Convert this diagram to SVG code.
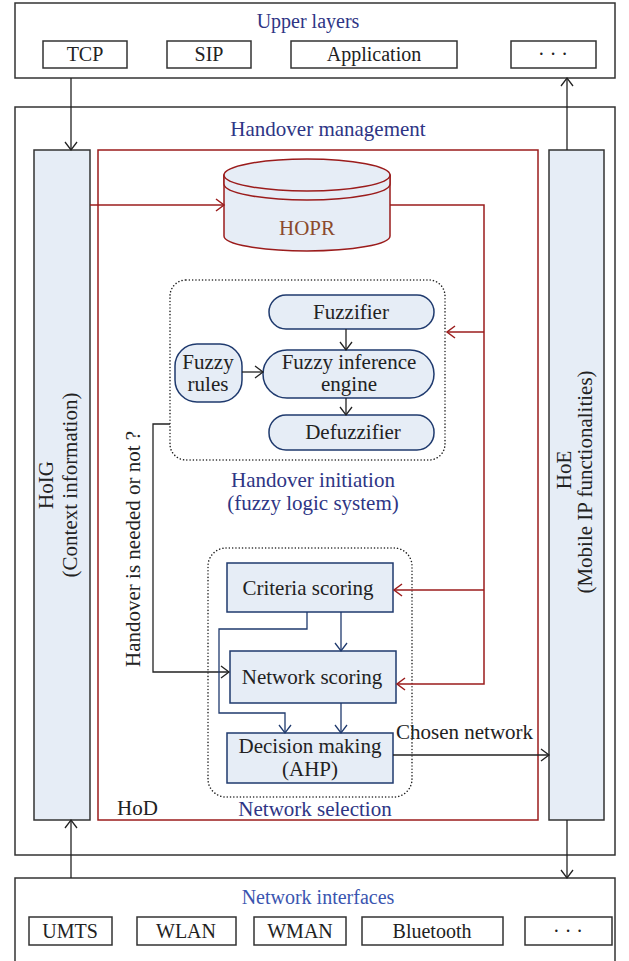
<svg xmlns="http://www.w3.org/2000/svg" width="629" height="961" viewBox="0 0 629 961">
<style>
text{font-family:"Liberation Serif","Times New Roman",serif;fill:#222;font-size:21px;}
.t{text-anchor:middle;}
.h{font-size:20px;}
.nv{fill:#2e3585;}
.nb{fill:#3a55b0;}
.box{fill:#fff;stroke:#333;stroke-width:1.5;}
.col{fill:#e6edf6;stroke:#333;stroke-width:1.5;}
.bl{fill:#e6edf6;stroke:#1f3a6e;stroke-width:1.5;}
.red{fill:none;stroke:#9b1c1c;stroke-width:1.5;}
.k{fill:none;stroke:#222;stroke-width:1.3;}
.b{fill:none;stroke:#1f3a6e;stroke-width:1.3;}
.dot{fill:none;stroke:#222;stroke-width:1.5;stroke-dasharray:0.1 3.2;stroke-linecap:round;}
</style>
<defs>
<marker id="ak" markerUnits="userSpaceOnUse" markerWidth="12" markerHeight="14" refX="9" refY="7" orient="auto"><path d="M1,1 L9,7 L1,13" fill="none" stroke="#222" stroke-width="1.3"/></marker>
<marker id="ar" markerUnits="userSpaceOnUse" markerWidth="12" markerHeight="14" refX="9" refY="7" orient="auto"><path d="M1,1 L9,7 L1,13" fill="none" stroke="#9b1c1c" stroke-width="1.5"/></marker>
<marker id="ab" markerUnits="userSpaceOnUse" markerWidth="12" markerHeight="14" refX="9" refY="7" orient="auto"><path d="M1,1 L9,7 L1,13" fill="none" stroke="#1f3a6e" stroke-width="1.3"/></marker>
</defs>

<g id="upper-layers">
<rect class="box" x="15" y="3" width="600" height="75"/>
<text class="t h nv" x="308" y="28">Upper layers</text>
<rect class="box" x="43" y="41" width="84" height="27"/><text class="t h" x="85" y="61">TCP</text>
<rect class="box" x="167" y="41" width="84" height="27"/><text class="t h" x="209" y="61">SIP</text>
<rect class="box" x="291" y="41" width="166" height="27"/><text class="t h" x="374" y="61">Application</text>
<rect class="box" x="511" y="41" width="85" height="27"/><text class="t h" x="553" y="61">· · ·</text>
</g>

<g id="handover-management">
<rect class="box" x="15" y="107" width="600" height="748"/>
<text class="t nv" x="328" y="136">Handover management</text>
</g>

<g id="HoIG">
<rect class="col" x="34" y="150" width="56" height="670"/>
<text class="t" transform="translate(53,485) rotate(-90)">HoIG</text>
<text class="t" transform="translate(77,485) rotate(-90)">(Context information)</text>
</g>

<g id="HoE">
<rect class="col" x="549" y="150" width="55" height="670"/>
<text class="t" transform="translate(571,470) rotate(-90)">HoE</text>
<text class="t" transform="translate(592,482) rotate(-90)">(Mobile IP functionalities)</text>
</g>

<g id="HoD">
<rect x="98" y="150" width="440" height="670" fill="none" stroke="#9b1c1c" stroke-width="1.5"/>
<text x="117" y="815">HoD</text>
</g>

<g id="HOPR">
<path d="M224,175 L224,236 A83,15 0 0 0 390,236 L390,175 Z" fill="#e6edf6" stroke="#9b1c1c" stroke-width="1.5"/>
<path d="M224,175 L224,184 A83,16 0 0 0 390,184 L390,175" fill="#e6edf6" stroke="#9b1c1c" stroke-width="1.5"/>
<ellipse cx="307" cy="175" rx="83" ry="16" fill="#e6edf6" stroke="#9b1c1c" stroke-width="1.5"/>
<text class="t" x="307" y="235" style="fill:#8b4a2b">HOPR</text>
</g>

<g id="handover-initiation">
<rect class="dot" x="170" y="280" width="275" height="180" rx="16"/>
<text class="t nv" x="313" y="487">Handover initiation</text>
<text class="t nv" x="313" y="510">(fuzzy logic system)</text>
</g>
<g id="fuzzifier">
<rect class="bl" x="269" y="295" width="165" height="34" rx="17"/>
<text class="t" x="351" y="319">Fuzzifier</text>
</g>
<g id="inference-engine">
<rect class="bl" x="263" y="350" width="171" height="48" rx="24"/>
<text class="t" x="349" y="369">Fuzzy inference</text>
<text class="t" x="349" y="391">engine</text>
</g>
<g id="defuzzifier">
<rect class="bl" x="269" y="415" width="165" height="35" rx="17"/>
<text class="t" x="353" y="439">Defuzzifier</text>
</g>
<g id="fuzzy-rules">
<rect class="bl" x="175" y="344" width="67" height="58" rx="22"/>
<text class="t" x="208" y="369">Fuzzy</text>
<text class="t" x="208" y="391">rules</text>
</g>

<g id="network-selection">
<rect class="dot" x="208" y="548" width="204" height="249" rx="18"/>
<text class="t nv" x="315" y="816">Network selection</text>
</g>
<g id="criteria-scoring">
<rect class="bl" x="227" y="563" width="166" height="49"/>
<text class="t" x="308" y="595">Criteria scoring</text>
</g>
<g id="network-scoring">
<rect class="bl" x="230" y="651" width="166" height="52"/>
<text class="t" x="312" y="684">Network scoring</text>
</g>
<g id="decision-making">
<rect class="bl" x="227" y="733" width="166" height="50"/>
<text class="t" x="310" y="753">Decision making</text>
<text class="t" x="310" y="776">(AHP)</text>
</g>

<g id="network-interfaces">
<rect class="box" x="15" y="878" width="600" height="90"/>
<text class="t h nb" x="318" y="904">Network interfaces</text>
<rect class="box" x="29" y="917" width="83" height="28"/><text class="t h" x="70" y="938">UMTS</text>
<rect class="box" x="137" y="917" width="99" height="28"/><text class="t h" x="186" y="938">WLAN</text>
<rect class="box" x="254" y="917" width="92" height="28"/><text class="t h" x="300" y="938">WMAN</text>
<rect class="box" x="362" y="917" width="141" height="28"/><text class="t h" x="432" y="938">Bluetooth</text>
<rect class="box" x="525" y="917" width="87" height="28"/><text class="t h" x="568" y="938">· · ·</text>
</g>

<g id="connectors">
<line class="k" x1="71" y1="78" x2="71" y2="150" marker-end="url(#ak)"/>
<line class="k" x1="567" y1="150" x2="567" y2="78" marker-end="url(#ak)"/>
<line class="k" x1="71" y1="878" x2="71" y2="820" marker-end="url(#ak)"/>
<line class="k" x1="567" y1="820" x2="567" y2="878" marker-end="url(#ak)"/>
<line class="red" x1="90" y1="205" x2="224" y2="205" marker-end="url(#ar)"/>
<polyline class="red" points="390,205 484,205 484,684 397,684" marker-end="url(#ar)"/>
<line class="red" x1="484" y1="332" x2="447" y2="332" marker-end="url(#ar)"/>
<line class="red" x1="484" y1="590" x2="394" y2="590" marker-end="url(#ar)"/>
<line class="k" x1="346" y1="329" x2="346" y2="350" marker-end="url(#ak)"/>
<line class="k" x1="346" y1="398" x2="346" y2="415" marker-end="url(#ak)"/>
<line class="k" x1="242" y1="372" x2="263" y2="372" marker-end="url(#ak)"/>
<polyline class="k" points="170,424 153,424 153,672 229,672" marker-end="url(#ak)"/>
<text transform="translate(140,667) rotate(-90)">Handover is needed or not ?</text>
<line class="b" x1="341" y1="612" x2="341" y2="651" marker-end="url(#ab)"/>
<line class="b" x1="341" y1="703" x2="341" y2="733" marker-end="url(#ab)"/>
<polyline class="b" points="307,612 307,629 219,629 219,713 285,713 285,733" marker-end="url(#ab)"/>
<line class="k" x1="393" y1="755" x2="549" y2="755" marker-end="url(#ak)"/>
<text x="396" y="739">Chosen network</text>
</g>
</svg>
